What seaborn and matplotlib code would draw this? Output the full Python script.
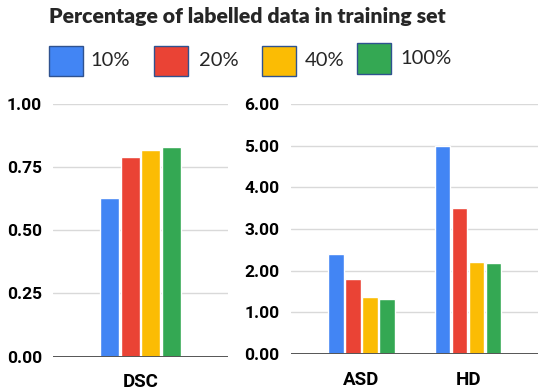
import pandas as pd
import matplotlib.pyplot as plt
import seaborn as sns
from matplotlib.patches import Rectangle

# ---------- DATA ----------
ratios = ["10%", "20%", "40%", "100%"]
colors = ["#4285F4", "#EA4335", "#FBBC04", "#34A853"]

dsc_metrics = ["DSC"]
dsc_values = {"10%": [0.626], "20%": [0.79], "40%": [0.815], "100%": [0.827]}

dist_metrics = ["ASD", "HD"]
dist_values = {"10%": [2.40, 5.00], "20%": [1.80, 3.50],
               "40%": [1.36, 2.22], "100%": [1.31, 2.19]}


def to_long(metrics, values):
    rows = []
    for r in ratios:
        for m, v in zip(metrics, values[r]):
            rows.append({"metric": m, "ratio": r, "value": v})
    return pd.DataFrame(rows)


df_dsc = to_long(dsc_metrics, dsc_values)
df_dist = to_long(dist_metrics, dist_values)

# ---------- FIGURE ----------
sns.set_style("white")
plt.rcParams["font.family"] = ["Roboto", "DejaVu Sans"]

W, H = 542, 392
fig = plt.figure(figsize=(W / 100, H / 100), dpi=100)


def px_axes(x0, y0, x1, y1):
    return fig.add_axes([x0 / W, 1 - y1 / H, (x1 - x0) / W, (y1 - y0) / H])


ax1 = px_axes(53, 103.5, 228, 356.7)
ax2 = px_axes(290.7, 104, 538, 354)

sns.barplot(data=df_dsc, x="metric", y="value", hue="ratio", hue_order=ratios,
            palette=colors, width=0.47, gap=0.08, saturation=1, ax=ax1, legend=False)
sns.barplot(data=df_dist, x="metric", y="value", hue="ratio", hue_order=ratios,
            palette=colors, width=0.635, gap=0.08, saturation=1, ax=ax2, legend=False)

ax1.set_ylim(0, 1)
ax1.set_yticks([0, 0.25, 0.5, 0.75, 1.0])
ax1.set_yticklabels([f"{t:.2f}" for t in ax1.get_yticks()])
ax1.set_xlim(-0.5, 0.5)

ax2.set_ylim(0, 6)
ax2.set_yticks(range(7))
ax2.set_yticklabels([f"{t:.2f}" for t in ax2.get_yticks()])
ax2.set_xlim(-0.665, 1.657)

for ax in (ax1, ax2):
    sns.despine(ax=ax, left=True, bottom=True)
    ax.grid(axis="y", color="#d9d9d9", lw=1)
    ax.set_axisbelow(True)
    ax.axhline(0, color="#555555", lw=1.4, zorder=5)
    ax.set_xlabel("")
    ax.set_ylabel("")
    ax.tick_params(length=0)
    ax.tick_params(axis="y", pad=8, labelsize=12.5, labelcolor="black")
    ax.tick_params(axis="x", pad=12, labelsize=13.5, labelcolor="black")
    for lab in ax.get_yticklabels() + ax.get_xticklabels():
        lab.set_fontweight("bold")

# ---------- LEGEND (drawn manually above the panels) ----------
ov = fig.add_axes([0, 0, 1, 1], zorder=-1)
ov.set_xlim(0, W)
ov.set_ylim(H, 0)
ov.axis("off")

ov.text(49, 22.5, "Percentage of labelled data in training set", fontsize=15.3,
        fontweight="heavy", family=["Lato", "DejaVu Sans"], va="baseline")

boxes = [(49, 45.7), (154.3, 45.7), (262.3, 45.7), (357, 43.3)]
label_x = [90.7, 199, 304.3, 400]
for (bx, by), lx, c, r in zip(boxes, label_x, colors, ratios):
    ov.add_patch(Rectangle((bx, by), 33.5, 30.5, facecolor=c,
                           edgecolor="#2F528F", lw=1))
    ov.text(lx, by + 20.5, r, fontsize=14.5, family=["Lato", "DejaVu Sans"],
            va="baseline")

fig.savefig("out.png", dpi=100)
